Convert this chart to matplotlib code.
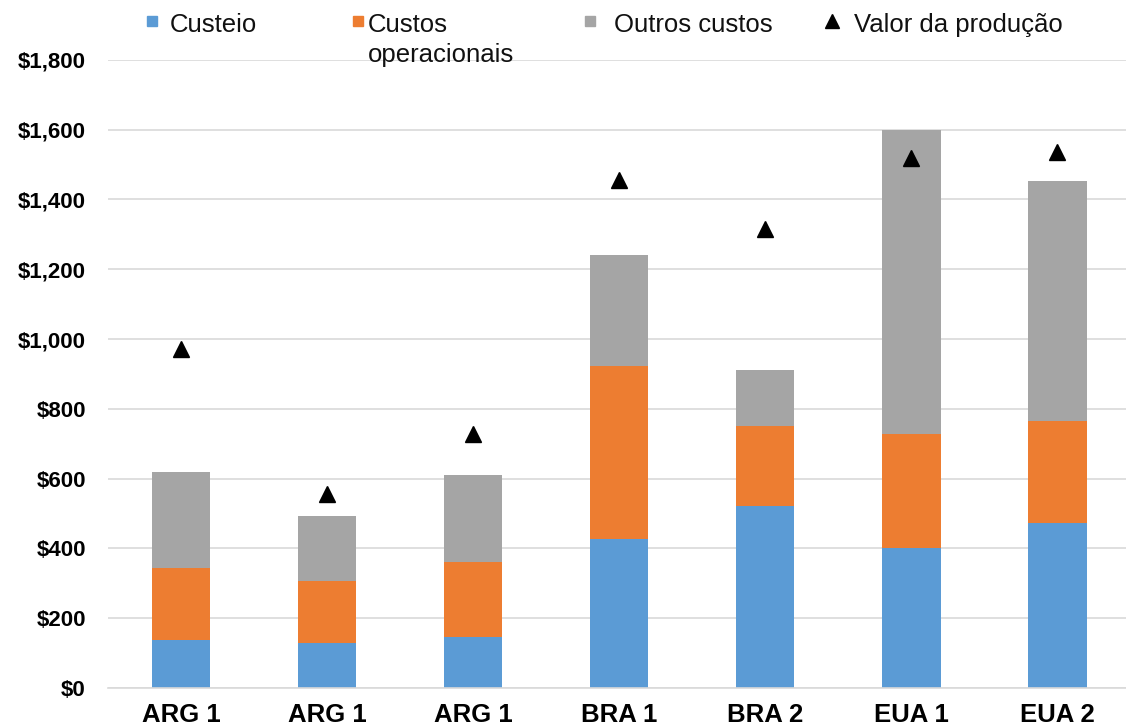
import matplotlib.pyplot as plt
from matplotlib.lines import Line2D
from matplotlib.ticker import FuncFormatter, MultipleLocator
import numpy as np

plt.rcParams['font.family'] = ['Liberation Sans', 'DejaVu Sans']

# Cost breakdown per farm (US$/ha)
farms = ["ARG 1", "ARG 1", "ARG 1", "BRA 1", "BRA 2", "EUA 1", "EUA 2"]
custeio = [138, 129, 147, 428, 520, 402, 472]
custos_operacionais = [205, 176, 215, 495, 231, 326, 294]
outros_custos = [276, 188, 247, 318, 160, 870, 686]
valor_producao = [971, 555, 727, 1455, 1316, 1518, 1535]

c_blue = "#5b9bd5"
c_orange = "#ed7d31"
c_gray = "#a5a5a5"

W, H = 1126, 726
fig = plt.figure(figsize=(W / 100, H / 100), dpi=100)
ax = fig.add_axes([0.096, 0.0525, 0.904, 0.865])

x = np.arange(len(farms))
w = 0.4
b1 = np.array(custeio)
b2 = b1 + np.array(custos_operacionais)
ax.bar(x, custeio, w, color=c_blue, zorder=2)
ax.bar(x, custos_operacionais, w, bottom=b1, color=c_orange, zorder=2)
ax.bar(x, outros_custos, w, bottom=b2, color=c_gray, zorder=2)
ax.plot(x, valor_producao, linestyle="none", marker="^", color="black",
        markersize=12, zorder=3)

ax.set_ylim(0, 1800)
ax.set_xlim(-0.5, 6.47)
ax.yaxis.set_major_locator(MultipleLocator(200))
ax.yaxis.set_major_formatter(FuncFormatter(lambda v, p: f"${v:,.0f}"))
ax.grid(axis="y", color="#d9d9d9", linewidth=1.2, zorder=0)
for s in ["top", "right", "left"]:
    ax.spines[s].set_visible(False)
ax.spines["bottom"].set_color("#d9d9d9")
ax.spines["bottom"].set_linewidth(1.2)
ax.tick_params(length=0)
ax.tick_params(axis="y", labelsize=16, pad=16)
ax.tick_params(axis="x", labelsize=18.5, pad=11)
ax.set_xticks(x)
ax.set_xticklabels(farms)
for lab in ax.get_yticklabels() + ax.get_xticklabels():
    lab.set_fontweight("bold")

# legend drawn along the top edge, handle next to the first text line
legend_items = [
    ("s", c_blue, 7.5, 152, 170, ["Custeio"]),
    ("s", c_orange, 7.5, 358, 368, ["Custos", "operacionais"]),
    ("s", c_gray, 7.5, 590, 614, ["Outros custos"]),
    ("^", "black", 9.5, 832, 854, ["Valor da produção"]),
]
for mk, col, ms, hx, tx, lines in legend_items:
    fig.add_artist(Line2D([hx / W], [1 - 21 / H], transform=fig.transFigure,
                          linestyle="none", marker=mk, color=col, markersize=ms))
    for i, line in enumerate(lines):
        fig.text(tx / W, 1 - (32 + 30 * i) / H, line, fontsize=18.5,
                 ha="left", va="baseline", color="#111111")

fig.savefig("out.png", dpi=100)
